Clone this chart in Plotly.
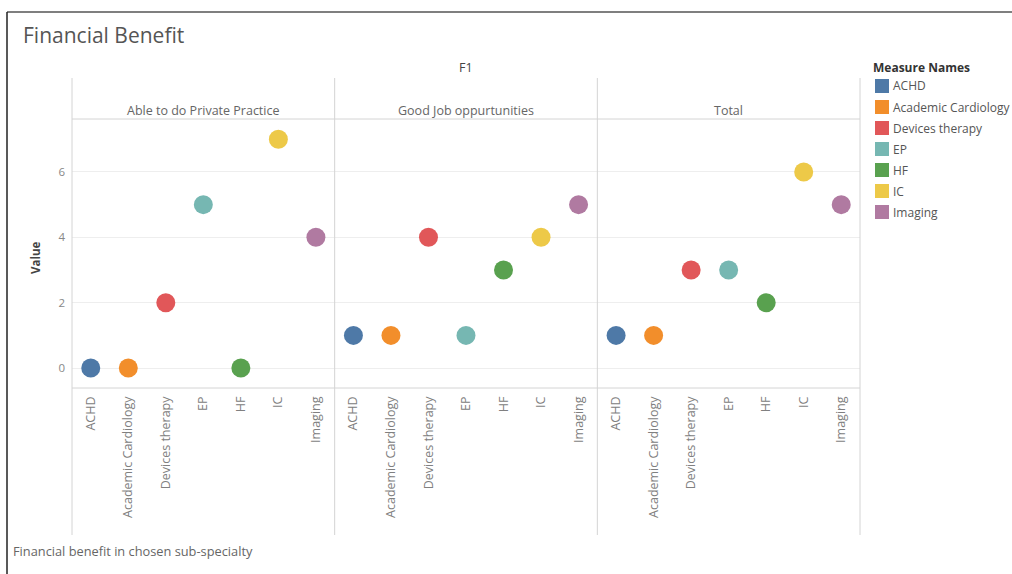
import plotly.graph_objects as go

# ---- data ----
categories = ["ACHD", "Academic Cardiology", "Devices therapy", "EP", "HF", "IC", "Imaging"]
panels = ["Able to do Private Practice", "Good Job oppurtunities", "Total"]
private_practice = [0, 0, 2, 5, 0, 7, 4]
good_job = [1, 1, 4, 1, 3, 4, 5]
total = [1, 1, 3, 3, 2, 6, 5]
panel_values = [private_practice, good_job, total]
colors = ["#4e79a7", "#f28e2b", "#e15759", "#76b7b2", "#59a14f", "#edc948", "#b07aa1"]
y_ticks = [0, 2, 4, 6]

FONT = "Open Sans"
W, H = 1012, 574
L, R, T, B = 72, 860, 119, 388  # plot area pixel box


def fx(px):
    return (px - L) / (R - L)


def fy(py):
    return (B - py) / (B - T)


fig = go.Figure()
xaxes = ["x", "x2", "x3"]
for p, (vals, xa) in enumerate(zip(panel_values, xaxes)):
    for c, cat in enumerate(categories):
        fig.add_trace(go.Scatter(
            x=[cat], y=[vals[c]], mode="markers", xaxis=xa, yaxis="y",
            marker=dict(size=19, color=colors[c], line=dict(width=0)),
            name=cat, showlegend=False,
            hovertemplate=f"{panels[p]}<br>{cat}: %{{y}}<extra></extra>",
        ))

n = len(panels)
bounds = [i / n for i in range(n + 1)]
xcommon = dict(
    type="category", categoryorder="array", categoryarray=categories,
    range=[-0.5, len(categories) - 0.5], tickangle=-90, showgrid=False,
    zeroline=False, showline=False, ticks="", anchor="y",
    tickfont=dict(family=FONT, size=12.5, color="#808080"), ticklabelstandoff=5,
)
layout_axes = {}
for i, xa in enumerate(xaxes):
    key = "xaxis" if i == 0 else f"xaxis{i+1}"
    layout_axes[key] = dict(xcommon, domain=[bounds[i], bounds[i + 1]])

shapes = []
line_c = "#d4d4d4"
# panel dividers
for b in bounds:
    shapes.append(dict(type="line", xref="paper", yref="paper", x0=b, x1=b,
                       y0=fy(535), y1=fy(78), line=dict(color=line_c, width=1)))
# header separator and axis line
for yy in (1.0, 0.0):
    shapes.append(dict(type="line", xref="paper", yref="paper", x0=0, x1=1,
                       y0=yy, y1=yy, line=dict(color=line_c, width=1)))
# outer border (top & left)
shapes.append(dict(type="line", xref="paper", yref="paper", x0=fx(7), x1=fx(1012),
                   y0=fy(12), y1=fy(12), line=dict(color="#555", width=1.5)))
shapes.append(dict(type="line", xref="paper", yref="paper", x0=fx(7), x1=fx(7),
                   y0=fy(12), y1=fy(574), line=dict(color="#222", width=1.5)))

annotations = []
# title
annotations.append(dict(text="Financial Benefit", xref="paper", yref="paper", x=fx(21), y=fy(35),
                        xanchor="left", yanchor="middle", showarrow=False,
                        font=dict(family=FONT, size=21, color="#555")))
# F1 header
annotations.append(dict(text="F1", xref="paper", yref="paper", x=0.5, y=fy(68),
                        xanchor="center", yanchor="middle", showarrow=False,
                        font=dict(family=FONT, size=12.5, color="#444")))
# panel headers
for i, name in enumerate(panels):
    annotations.append(dict(text=name, xref="paper", yref="paper",
                            x=(bounds[i] + bounds[i + 1]) / 2, y=fy(111),
                            xanchor="center", yanchor="middle", showarrow=False,
                            font=dict(family=FONT, size=12.5, color="#666")))
# y-axis title
annotations.append(dict(text="<b>Value</b>", xref="paper", yref="paper", x=fx(35), y=fy(258),
                        xanchor="center", yanchor="middle", textangle=-90, showarrow=False,
                        font=dict(family=FONT, size=11.5, color="#444")))
# caption
annotations.append(dict(text="Financial benefit in chosen sub-specialty", xref="paper", yref="paper",
                        x=fx(11), y=fy(551), xanchor="left", yanchor="middle", showarrow=False,
                        font=dict(family=FONT, size=12.8, color="#666")))
# legend (manual, Tableau style)
annotations.append(dict(text="<b>Measure Names</b>", xref="paper", yref="paper", x=fx(871), y=fy(68),
                        xanchor="left", yanchor="middle", showarrow=False,
                        font=dict(family=FONT, size=12, color="#333")))
for i, (cat, col) in enumerate(zip(categories, colors)):
    cy = 86 + 21 * i
    shapes.append(dict(type="rect", xref="paper", yref="paper", x0=fx(875), x1=fx(889),
                       y0=fy(cy + 7), y1=fy(cy - 7), fillcolor=col, line=dict(width=0)))
    annotations.append(dict(text=cat, xref="paper", yref="paper", x=fx(891), y=fy(cy),
                            xanchor="left", yanchor="middle", showarrow=False,
                            font=dict(family=FONT, size=12, color="#555")))

fig.update_layout(
    width=W, height=H,
    margin=dict(l=L, r=W - R, t=T, b=H - B, pad=0),
    paper_bgcolor="white", plot_bgcolor="white",
    showlegend=False,
    yaxis=dict(range=[-0.61, 7.62], tickvals=y_ticks, showgrid=True, gridcolor="#eeeeee",
               zeroline=False, showline=False, ticks="",
               tickfont=dict(family=FONT, size=11.5, color="#888"), ticklabelstandoff=6),
    shapes=shapes, annotations=annotations,
    **layout_axes,
)

fig.write_html("out.html")
